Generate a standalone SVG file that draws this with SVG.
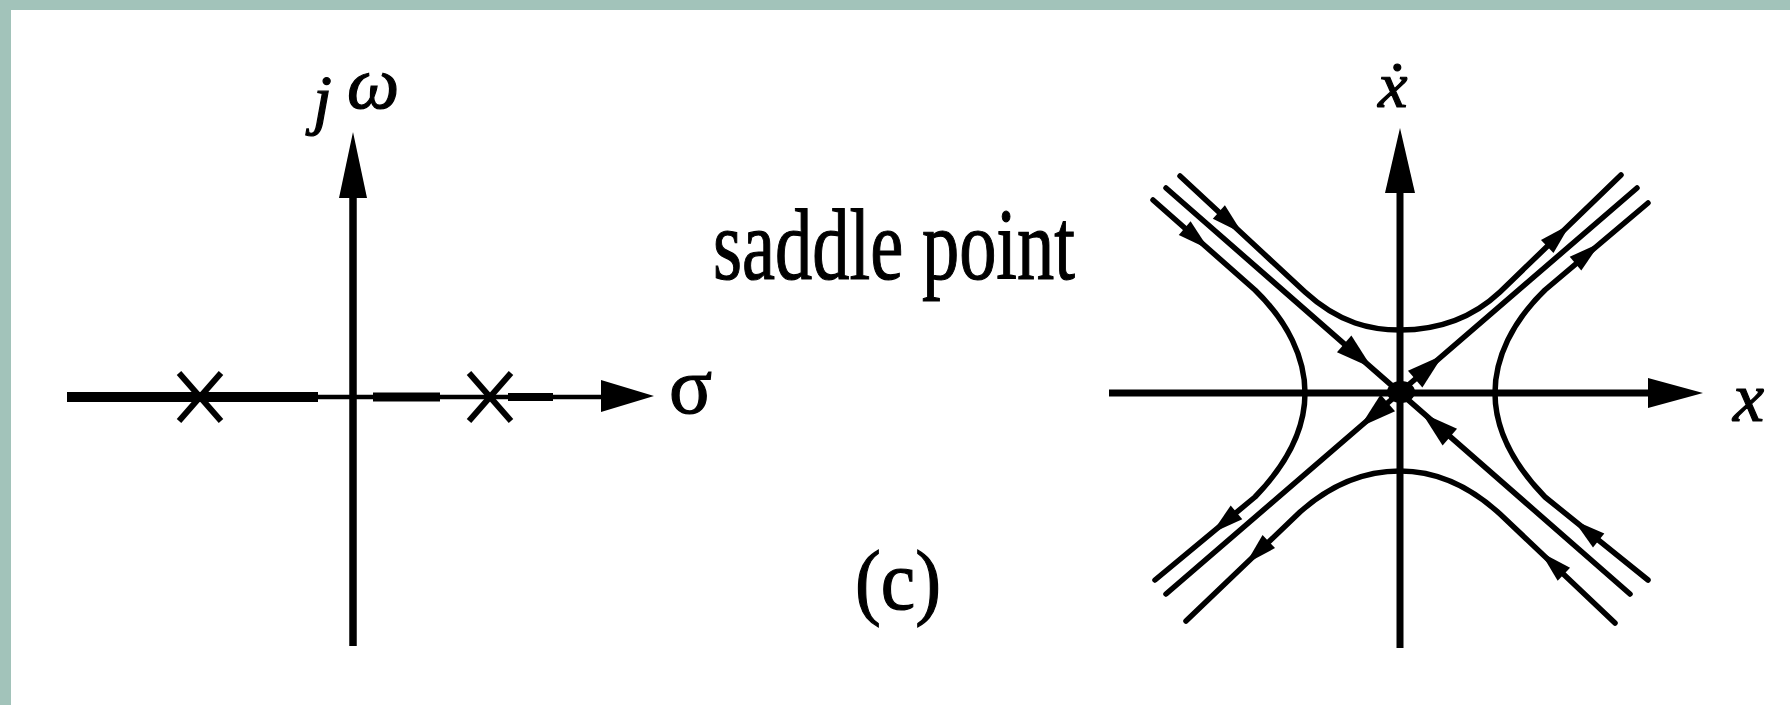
<svg xmlns="http://www.w3.org/2000/svg" xmlns:xlink="http://www.w3.org/1999/xlink" width="1790" height="705" viewBox="0 0 1790 705">
<style>
.ax{stroke:#000;fill:none;stroke-linecap:butt}
.cv{stroke:#000;fill:none;stroke-width:5.5;stroke-linejoin:round;stroke-linecap:round}
.ah{fill:#000}
.t{font-family:"Liberation Serif","Times New Roman",serif;fill:#000;stroke:#000;stroke-width:1.2}
.it{font-style:italic}
</style>
<defs>
<path id="ahS" d="M17,0 L-15,-9 L-15,9 Z"/>
<path id="ahL" d="M20,0 L-17,-11 L-17,11 Z"/>
</defs>
<rect x="0" y="0" width="1790" height="705" fill="#ffffff"/>
<rect x="0" y="0" width="1790" height="10" fill="#a2c3ba"/>
<rect x="0" y="0" width="11" height="705" fill="#a2c3ba"/>

<g id="pole-zero-plot">
<line class="ax" x1="353" y1="190" x2="353" y2="646" stroke-width="7.5"/>
<polygon class="ah" points="353,132 367,198 339,198"/>
<line class="ax" x1="67" y1="397" x2="318" y2="397" stroke-width="10"/>
<line class="ax" x1="318" y1="397" x2="373" y2="397" stroke-width="4.5"/>
<line class="ax" x1="373" y1="397" x2="440" y2="397" stroke-width="9"/>
<line class="ax" x1="440" y1="397" x2="508" y2="397" stroke-width="4.5"/>
<line class="ax" x1="508" y1="397" x2="553" y2="397" stroke-width="8"/>
<line class="ax" x1="553" y1="397" x2="605" y2="397" stroke-width="4.5"/>
<polygon class="ah" points="654,396 601,380 601,412"/>
<g id="pole-1">
<line class="ax" x1="179" y1="373" x2="221" y2="421" stroke-width="6"/>
<line class="ax" x1="221" y1="373" x2="179" y2="421" stroke-width="6"/>
</g>
<g id="pole-2">
<line class="ax" x1="469" y1="373" x2="511" y2="421" stroke-width="6"/>
<line class="ax" x1="511" y1="373" x2="469" y2="421" stroke-width="6"/>
</g>
<text class="t it" x="313" y="122" font-size="68">j</text>
<text class="t it" x="347" y="108" font-size="74">ω</text>
<text class="t" x="669" y="413" font-size="80">σ</text>
</g>

<g id="caption">
<text class="t" x="713" y="279" font-size="102" textLength="362" lengthAdjust="spacingAndGlyphs">saddle point</text>
<text class="t" x="855" y="609" font-size="84" textLength="86" lengthAdjust="spacingAndGlyphs">(c)</text>
</g>

<g id="phase-portrait">
<line class="ax" x1="1400" y1="185" x2="1400" y2="648" stroke-width="7"/>
<polygon class="ah" points="1400,128 1415,193 1385,193"/>
<line class="ax" x1="1109" y1="393" x2="1655" y2="393" stroke-width="7"/>
<polygon class="ah" points="1703,393 1648,378 1648,408"/>
<text class="t it" x="1378" y="107" font-size="66">ẋ</text>
<text class="t it" x="1733" y="421" font-size="70">x</text>

<g id="trajectories">
<line class="cv" x1="1166" y1="188" x2="1630" y2="594"/>
<line class="cv" x1="1166" y1="594" x2="1637" y2="188"/>
<path class="cv" d="M1180,176 L1305,292 C1340,324 1372,330 1400,330 C1428,330 1466,324 1500,292 L1621,175"/>
<path class="cv" d="M1186,621 L1300,512 C1336,480 1372,471 1400,471 C1428,471 1464,481 1500,514 L1615,623"/>
<path class="cv" d="M1153,200 L1255,290 C1288,322 1305,358 1305,393 C1305,428 1288,463 1255,497 L1155,580"/>
<path class="cv" d="M1648,203 L1545,290 C1512,322 1495,358 1495,393 C1495,428 1512,463 1545,497 L1648,580"/>
<ellipse cx="1401" cy="392" rx="14" ry="11" fill="#000"/>
</g>

<g id="flow-arrows" class="ah">
<use xlink:href="#ahS" transform="translate(1230,222) rotate(42)"/>
<use xlink:href="#ahS" transform="translate(1196,238) rotate(41)"/>
<use xlink:href="#ahL" transform="translate(1357,355) rotate(41)"/>
<use xlink:href="#ahL" transform="translate(1437,426) rotate(221)"/>
<use xlink:href="#ahL" transform="translate(1428,368) rotate(-41)"/>
<use xlink:href="#ahL" transform="translate(1375,414) rotate(139)"/>
<use xlink:href="#ahS" transform="translate(1558,236) rotate(-44)"/>
<use xlink:href="#ahS" transform="translate(1587,254) rotate(-40)"/>
<use xlink:href="#ahS" transform="translate(1225,522) rotate(140)"/>
<use xlink:href="#ahS" transform="translate(1258,552) rotate(136)"/>
<use xlink:href="#ahS" transform="translate(1587,531) rotate(219)"/>
<use xlink:href="#ahS" transform="translate(1553,564) rotate(223.5)"/>
</g>
</g>
</svg>
